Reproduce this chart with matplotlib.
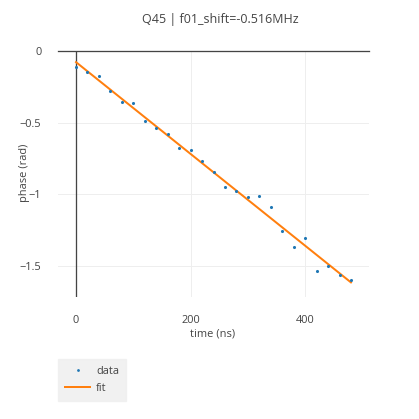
import matplotlib
matplotlib.use("Agg")
import matplotlib.pyplot as plt
from matplotlib.lines import Line2D

# data
time_ns = [0, 20, 40, 60, 80, 100, 120, 140, 160, 180, 200, 220, 240,
           260, 280, 300, 320, 340, 360, 380, 400, 420, 440, 460, 480]
phase = [-0.109, -0.148, -0.174, -0.278, -0.359, -0.363, -0.486, -0.539,
         -0.578, -0.678, -0.694, -0.769, -0.849, -0.952, -0.977, -1.023,
         -1.012, -1.093, -1.262, -1.370, -1.308, -1.537, -1.505, -1.563,
         -1.602]
fit_t = [0, 480]
fit_phase = [-0.078, -1.618]

title = "Q45 | f01_shift=-0.516MHz"
xticks = [0, 200, 400]
yticks = [0, -0.5, -1, -1.5]

W = H = 419
px = 0.72  # px -> pt at dpi 100
plt.rcParams['font.family'] = ['Open Sans', 'DejaVu Sans']
txt = '#444444'

fig = plt.figure(figsize=(W / 100, H / 100), dpi=100)
L, R, T, B = 58, 369, 51, 297
ax = fig.add_axes([L / W, 1 - B / H, (R - L) / W, (B - T) / H])

ax.plot(fit_t, fit_phase, color='#ff7f0e', lw=2 * px, zorder=3)
ax.scatter(time_ns, phase, s=5, color='#1f77b4', lw=0, zorder=4)

ax.set_xlim(-31.5, 511.5)
ax.set_ylim(-1.72, 0.0)
ax.set_xticks(xticks)
ax.set_yticks(yticks)
ax.set_xticklabels(['0', '200', '400'])
ax.set_yticklabels(['0', '\u22120.5', '\u22121', '\u22121.5'])
ax.grid(color='#eeeeee', lw=1 * px, zorder=0)
ax.axvline(0, color='#444444', lw=1.3 * px, zorder=2)
ax.axhline(0, color='#444444', lw=1.3 * px, zorder=2, clip_on=False)
for s in ax.spines.values():
    s.set_visible(False)
ax.tick_params(length=0, labelsize=11 * px, colors=txt)
ax.tick_params(axis='y', pad=12)
ax.tick_params(axis='x', pad=13)

fig.text(220 / W, 1 - 20 / H, title, ha='center', va='center',
         fontsize=12.5 * px, color=txt)
fig.text(213 / W, 1 - 334 / H, 'time (ns)', ha='center', va='center',
         fontsize=11 * px, color=txt)
fig.text(24 / W, 1 - 173 / H, 'phase (rad)', ha='center', va='center',
         rotation=90, fontsize=11 * px, color=txt)

handles = [Line2D([], [], ls='none', marker='o', ms=2, color='#1f77b4', mew=0),
           Line2D([], [], color='#ff7f0e', lw=2 * px)]
leg = fig.legend(handles, ['data', 'fit'], loc='upper left',
                 bbox_to_anchor=(58 / W, 1 - 359 / H), frameon=True,
                 fancybox=False, fontsize=11 * px, handlelength=2.3,
                 handletextpad=0.5, borderpad=0.65, labelspacing=0.5,
                 borderaxespad=0)
leg.get_frame().set_facecolor('#eeeeee')
leg.get_frame().set_edgecolor('#eeeeee')
for t in leg.get_texts():
    t.set_color(txt)

fig.savefig('out.png', dpi=100)
